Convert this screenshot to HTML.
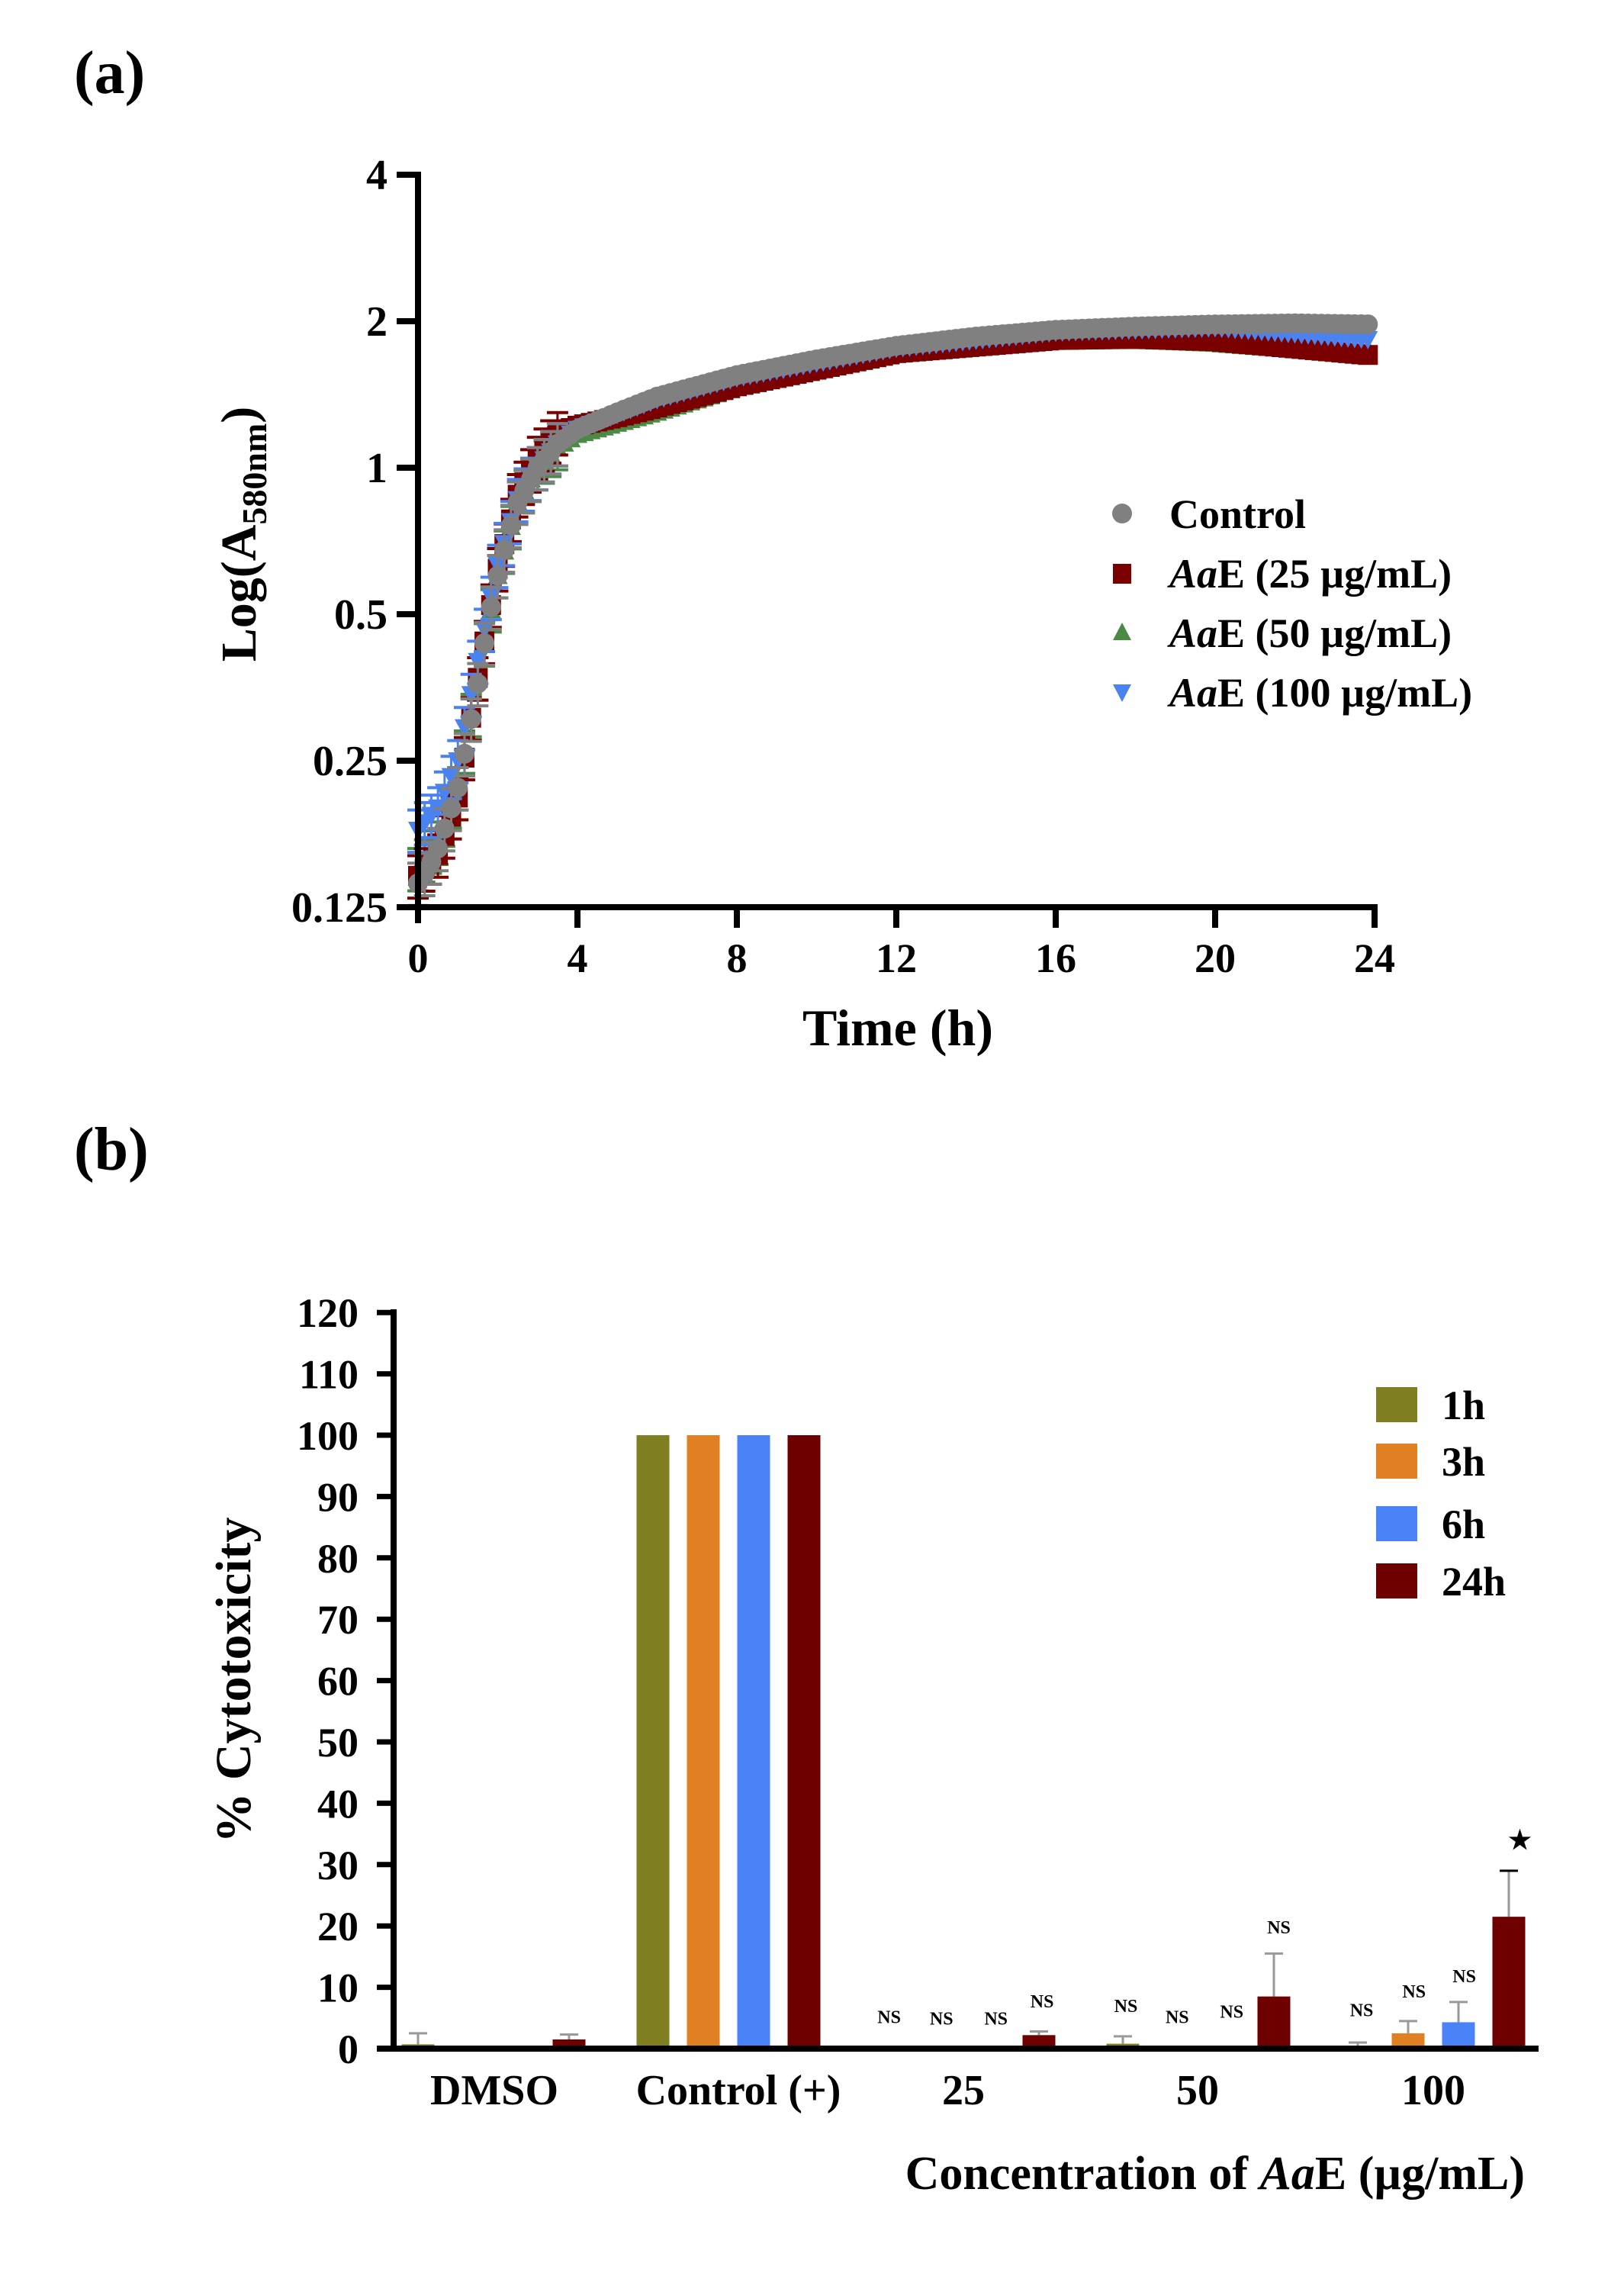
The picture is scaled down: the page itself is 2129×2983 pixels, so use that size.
<!DOCTYPE html>
<html><head><meta charset="utf-8"><style>
html,body{margin:0;padding:0;background:#fff;}
svg{display:block;font-family:"Liberation Serif",serif;font-weight:bold;}
</style></head><body>
<svg id="s" width="2129" height="2983" viewBox="0 0 2129 2983" xmlns="http://www.w3.org/2000/svg">
<rect width="2129" height="2983" fill="#fff"/>
<text x="97" y="122" font-size="80">(a)</text>
<g id="curves"></g>
<g stroke="#000" stroke-width="8" fill="none">
<line x1="548" y1="225" x2="548" y2="1210"/>
<line x1="520" y1="1189" x2="1806" y2="1189"/>
<line x1="520" y1="229" x2="548" y2="229"/>
<line x1="520" y1="421" x2="548" y2="421"/>
<line x1="520" y1="613" x2="548" y2="613"/>
<line x1="520" y1="805" x2="548" y2="805"/>
<line x1="520" y1="997" x2="548" y2="997"/>
<line x1="757" y1="1189" x2="757" y2="1216"/>
<line x1="966" y1="1189" x2="966" y2="1216"/>
<line x1="1175" y1="1189" x2="1175" y2="1216"/>
<line x1="1384" y1="1189" x2="1384" y2="1216"/>
<line x1="1593" y1="1189" x2="1593" y2="1216"/>
<line x1="1802" y1="1189" x2="1802" y2="1216"/>
</g>
<g font-size="56" text-anchor="end">
<text x="508" y="248">4</text><text x="508" y="440">2</text><text x="508" y="632">1</text>
<text x="508" y="824">0.5</text><text x="508" y="1016">0.25</text><text x="508" y="1208">0.125</text>
</g>
<g font-size="54" text-anchor="middle">
<text x="548" y="1274">0</text><text x="757" y="1274">4</text><text x="966" y="1274">8</text>
<text x="1175" y="1274">12</text><text x="1384" y="1274">16</text><text x="1593" y="1274">20</text><text x="1802" y="1274">24</text>
</g>
<text x="1177" y="1370" font-size="68" text-anchor="middle">Time (h)</text>
<text transform="translate(335,700) rotate(-90)" font-size="66" text-anchor="middle">Log(A<tspan font-size="46" dy="14">580nm</tspan><tspan dy="-14">)</tspan></text>
<circle cx="1471" cy="673" r="13" fill="#808080"/>
<rect x="1459" y="739" width="24" height="26" fill="#7a0000"/>
<polygon points="1471,816 1483,839 1459,839" fill="#4a8a45"/>
<polygon points="1459,897 1483,897 1471,920" fill="#4a82f0"/>
<g font-size="54">
<text x="1533" y="692">Control</text>
<text x="1533" y="770"><tspan font-style="italic">Aa</tspan>E (25 µg/mL)</text>
<text x="1533" y="848"><tspan font-style="italic">Aa</tspan>E (50 µg/mL)</text>
<text x="1533" y="926"><tspan font-style="italic">Aa</tspan>E (100 µg/mL)</text>
</g>

<text x="97" y="1533" font-size="80">(b)</text>
<g id="bars"></g>
<g stroke="#000" stroke-width="8" fill="none">
<line x1="516" y1="1716" x2="516" y2="2689"/>
<line x1="494" y1="2685" x2="2017" y2="2685"/>
</g>
<g id="yt" font-size="54" text-anchor="end"></g>
<g font-size="56" text-anchor="middle">
<text x="648" y="2758">DMSO</text>
<text x="968" y="2758">Control (+)</text>
<text x="1263" y="2758">25</text>
<text x="1570" y="2758">50</text>
<text x="1879" y="2758">100</text>
</g>
<text x="1999" y="2869" font-size="62" text-anchor="end">Concentration of <tspan font-style="italic">Aa</tspan>E (µg/mL)</text>
<text transform="translate(328,2202) rotate(-90)" font-size="66" text-anchor="middle">% Cytotoxicity</text>
<rect x="1804" y="1818" width="54" height="46" fill="#7f7f22"/>
<rect x="1804" y="1892" width="54" height="46" fill="#e08022"/>
<rect x="1804" y="1974" width="54" height="46" fill="#4a82f7"/>
<rect x="1804" y="2049" width="54" height="46" fill="#6e0000"/>
<g font-size="54">
<text x="1890" y="1860">1h</text><text x="1890" y="1934">3h</text>
<text x="1890" y="2016">6h</text><text x="1890" y="2091">24h</text>
</g>
<g id="ns" font-size="24" text-anchor="middle"></g>
</svg>
<script>
var NS="http://www.w3.org/2000/svg";
function el(p,t,a){var e=document.createElementNS(NS,t);for(var k in a)e.setAttribute(k,a[k]);p.appendChild(e);return e;}
function X(t){return 548+t*52.25;}
function Y(v){return 1189-Math.log2(v/0.125)*192;}
function interp(d,t){for(var i=0;i<d.length-1;i++){if(t<=d[i+1][0]){var f=(t-d[i][0])/(d[i+1][0]-d[i][0]);return Math.pow(2,Math.log2(d[i][1])*(1-f)+Math.log2(d[i+1][1])*f);}}return d[d.length-1][1];}
var ctrl=[[0,.14],[0.25,.15],[0.5,.165],[0.75,.19],[1,.22],[1.25,.28],[1.5,.36],[1.75,.48],[2,.6],[2.25,.72],[2.5,.85],[3,1.0],[3.5,1.12],[4,1.2],[5,1.3],[6,1.4],[8,1.55],[10,1.67],[12,1.78],[14,1.86],[16,1.92],[18,1.95],[20,1.97],[22,1.98],[24,1.97]];
var mar=[[0,.145],[0.5,.16],[1,.21],[1.5,.37],[2,.62],[2.5,.88],[3,1.05],[3.5,1.18],[4,1.22],[5,1.27],[6,1.33],[8,1.47],[12,1.72],[16,1.83],[18,1.84],[20,1.82],[24,1.7]];
var grn=[[0,.15],[0.5,.17],[1,.22],[1.5,.37],[2,.6],[2.5,.85],[3,1.0],[3.5,1.1],[4,1.17],[6,1.3],[8,1.46],[12,1.71],[16,1.82],[18,1.83],[20,1.8],[24,1.7]];
var blu=[[0,.18],[0.5,.2],[1,.25],[1.5,.4],[2,.63],[2.5,.86],[3,1.0],[3.5,1.12],[4,1.2],[6,1.38],[8,1.53],[12,1.76],[16,1.9],[20,1.94],[24,1.83]];
var g=document.getElementById('curves');
function series(d,col,shape){
 for(var t=0;t<=23.9;t+=1/6){var v=interp(d,t),x=X(t),y=Y(v);
  if(t<3.6){var e=v*0.1;el(g,'line',{x1:x,y1:Y(v-e),x2:x,y2:Y(v+e),stroke:col,'stroke-width':3});
   el(g,'line',{x1:x-14,y1:Y(v-e),x2:x+14,y2:Y(v-e),stroke:col,'stroke-width':4});
   el(g,'line',{x1:x-14,y1:Y(v+e),x2:x+14,y2:Y(v+e),stroke:col,'stroke-width':4});}
  if(shape=='c')el(g,'circle',{cx:x,cy:y,r:13,fill:col});
  else if(shape=='s')el(g,'rect',{x:x-13,y:y-13,width:26,height:26,fill:col});
  else if(shape=='u')el(g,'polygon',{points:(x)+','+(y-13)+' '+(x+13)+','+(y+11)+' '+(x-13)+','+(y+11),fill:col});
  else el(g,'polygon',{points:(x-13)+','+(y-11)+' '+(x+13)+','+(y-11)+' '+x+','+(y+13),fill:col});
 }}
series(grn,'#4a8a45','u');series(mar,'#7a0000','s');series(blu,'#4a82f0','d');series(ctrl,'#808080','c');
function BY(v){return 2685-v*8.04;}
var yt=document.getElementById('yt');
for(var i=0;i<=12;i++){var y=BY(i*10);var tx=el(yt,'text',{x:470,y:y+19});tx.textContent=i*10;
 el(document.getElementById('s'),'line',{x1:494,y1:y,x2:516,y2:y,stroke:'#000','stroke-width':7});}
var cols=['#7f7f22','#e08022','#4a82f7','#6e0000'],off=[-99,-33,33,99];
var data=[[[0.7,2.5],[0,0],[0,0],[1.5,2.3]],[[100,0],[100,0],[100,0],[100,0]],[[0,0],[0,0],[0,0],[2.2,2.8]],[[0.8,2],[0,0],[0,0],[8.5,15.5]],[[0.2,1],[2.5,4.5],[4.3,7.6],[21.5,29]]];
var bg=document.getElementById('bars');
for(var gi=0;gi<5;gi++){var c=647+308*gi;for(var b=0;b<4;b++){var v=data[gi][b][0],e=data[gi][b][1],x=c+off[b];
 if(e>0){el(bg,'line',{x1:x,y1:BY(v),x2:x,y2:BY(e),stroke:'#999','stroke-width':3});el(bg,'line',{x1:x-12,y1:BY(e),x2:x+12,y2:BY(e),stroke:gi==4&&b==3?'#000':'#999','stroke-width':3});}
 if(v>0)el(bg,'rect',{x:x-21.5,y:BY(v),width:43,height:2685-BY(v),fill:cols[b]});}}
var nsp=[[853,1215],[903,1217],[955,1217],[999,1194],[1079,1200],[1128,1215],[1180,1208],[1225,1096],[1304,1206],[1354,1181],[1402,1161]];
var ng=document.getElementById('ns');
nsp.forEach(function(p){var t=el(ng,'text',{x:p[0]*1.3735-6,y:p[1]*0.989+1450});t.textContent='NS';});
var st=el(ng,'text',{x:1455*1.3735-6,y:980*0.989+1450+4,'font-size':34});st.textContent='★';
</script>
</body></html>
